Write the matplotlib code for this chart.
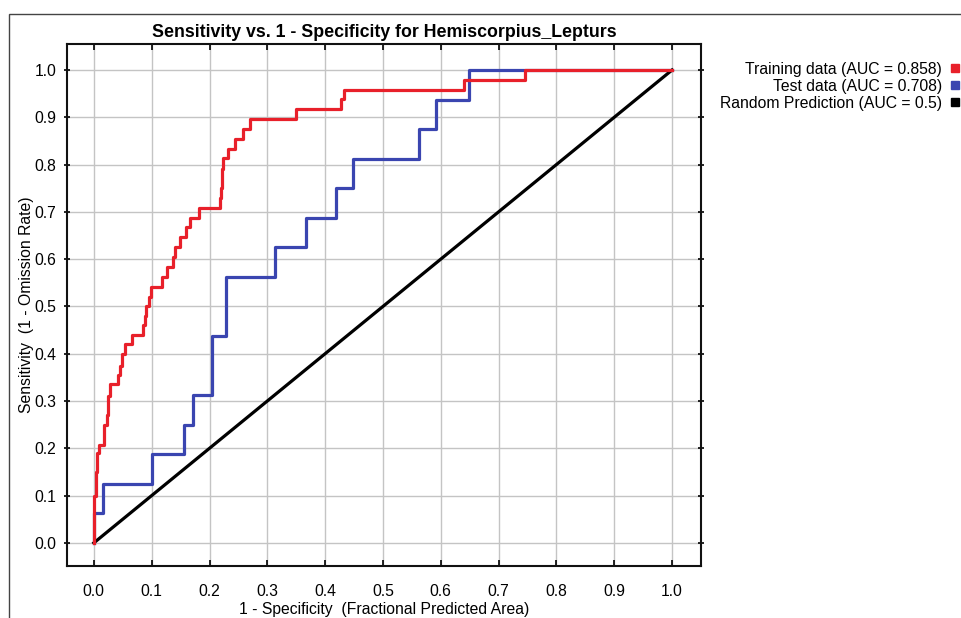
import matplotlib
matplotlib.use("Agg")
import matplotlib.pyplot as plt
from matplotlib.lines import Line2D
from matplotlib.patches import Rectangle

plt.rcParams['font.family'] = ['Liberation Sans', 'DejaVu Sans']

# training curve: (1 - specificity, sensitivity) at each step
train_fpr = [0.0, 0.0, 0.003, 0.006, 0.009, 0.018, 0.022, 0.025, 0.028, 0.042, 0.045,
             0.048, 0.054, 0.066, 0.085, 0.088, 0.091, 0.095, 0.098, 0.117, 0.126,
             0.137, 0.141, 0.149, 0.160, 0.166, 0.181, 0.218, 0.220, 0.222, 0.224,
             0.232, 0.244, 0.258, 0.270, 0.350, 0.428, 0.433, 0.640, 0.745, 1.0]
train_tpr = [0.0, 0.10, 0.15, 0.19, 0.208, 0.25, 0.27, 0.31, 0.335, 0.355, 0.375,
             0.40, 0.42, 0.44, 0.46, 0.48, 0.50, 0.52, 0.542, 0.563, 0.583,
             0.604, 0.625, 0.646, 0.667, 0.688, 0.708, 0.73, 0.75, 0.79, 0.813,
             0.833, 0.854, 0.875, 0.896, 0.917, 0.938, 0.958, 0.979, 1.0, 1.0]

# test curve
test_fpr = [0.0, 0.0, 0.016, 0.100, 0.156, 0.171, 0.204, 0.228, 0.314, 0.367,
            0.419, 0.449, 0.563, 0.592, 0.648, 1.0]
test_tpr = [0.0, 0.0625, 0.125, 0.1875, 0.25, 0.3125, 0.4375, 0.5625, 0.625, 0.6875,
            0.75, 0.8125, 0.875, 0.9375, 1.0, 1.0]

random_x = [0.0, 1.0]
random_y = [0.0, 1.0]

labels = ['Training data (AUC = 0.858)', 'Test data (AUC = 0.708)',
          'Random Prediction (AUC = 0.5)']
colors = ['#e8202a', '#3a45b0', '#000000']
ticks = [0.0, 0.1, 0.2, 0.3, 0.4, 0.5, 0.6, 0.7, 0.8, 0.9, 1.0]

fig = plt.figure(figsize=(9.61, 6.18), dpi=100)
ax = fig.add_axes([0.0694, 0.0841, 0.66, 0.8447])

ax.plot(train_fpr, train_tpr, drawstyle='steps-post', color=colors[0], lw=2.3, zorder=3)
ax.plot(test_fpr, test_tpr, drawstyle='steps-post', color=colors[1], lw=2.3, zorder=2)
ax.plot(random_x, random_y, color=colors[2], lw=2.3, zorder=2)

ax.set_xlim(-0.047, 1.05)
ax.set_ylim(-0.049, 1.055)
ax.set_xticks(ticks)
ax.set_yticks(ticks)
ax.set_xticklabels([f'{t:.1f}' for t in ticks])
ax.set_yticklabels([f'{t:.1f}' for t in ticks])
ax.grid(True, color='#c4c4c4', lw=1)
ax.set_axisbelow(True)
ax.tick_params(axis='x', direction='in', top=True, length=4, width=1.2, labelsize=11.3, pad=13)
ax.tick_params(axis='y', direction='inout', right=True, length=5, width=1.2, labelsize=11.3, pad=5)
ax.tick_params(axis='y', which='major', labelright=False)
for side in ax.spines.values():
    side.set_linewidth(1.5)
    side.set_color('#111111')

ax.set_title('Sensitivity vs. 1 - Specificity for Hemiscorpius_Lepturs',
             fontsize=12.8, fontweight='bold', pad=5)
ax.set_xlabel('1 - Specificity  (Fractional Predicted Area)', fontsize=11.3, labelpad=2)
ax.set_ylabel('Sensitivity  (1 - Omission Rate)', fontsize=11.3, labelpad=0)

handles = [Line2D([], [], marker='s', ls='none', color=c, markersize=5.5) for c in colors]
fig.legend(handles, labels, loc='upper right', bbox_to_anchor=(1.008, 0.915),
           frameon=False, markerfirst=False, fontsize=11.3, labelspacing=0.12,
           handlelength=0.6, handletextpad=0.5, borderaxespad=0.2)

fig.patches.append(Rectangle((9 / 961, -0.1), 1.2, 1.1 - 14 / 618, transform=fig.transFigure,
                             fill=False, edgecolor='#444444', lw=1))

fig.savefig('out.png', dpi=100)
